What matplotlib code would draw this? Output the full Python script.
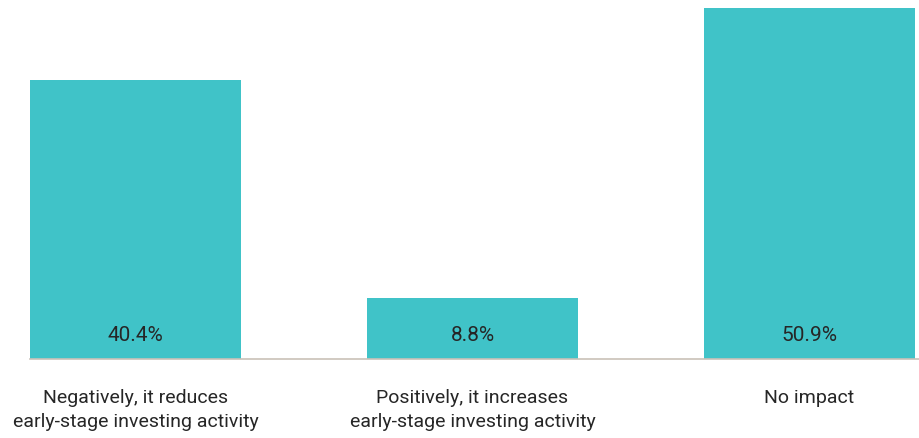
import matplotlib.pyplot as plt
import numpy as np

plt.rcParams['font.family'] = ['Roboto', 'DejaVu Sans']

categories = [
    "Negatively, it reduces\nearly-stage investing activity",
    "Positively, it increases\nearly-stage investing activity",
    "No impact",
]
values = [40.4, 8.8, 50.9]

bar_color = "#40c3c8"
text_color = "#262626"

fig = plt.figure(figsize=(9.19, 4.39), dpi=100)
ax = fig.add_axes([30 / 919, 79 / 439, 889 / 919, 351 / 439])

x = np.arange(len(categories))
width = 0.626
bars = ax.bar(x, values, width=width, color=bar_color, zorder=2)

# value labels near bottom of each bar
for xi, v in zip(x, values):
    ax.text(xi, 3.6, f"{v:.1f}%", ha="center", va="center",
            fontsize=15, color=text_color)

ax.set_xlim(-width / 2, -width / 2 + 889 / 337)
ax.set_ylim(0, max(values))

ax.set_xticks(x)
ax.set_xticklabels(categories, fontsize=14, color=text_color, linespacing=1.4)
ax.tick_params(axis="x", length=0, pad=21)
ax.set_yticks([])

for side in ["top", "right", "left"]:
    ax.spines[side].set_visible(False)
ax.spines["bottom"].set_color("#c9c1b8")
ax.spines["bottom"].set_linewidth(1.2)

fig.savefig("out.png", dpi=100)
